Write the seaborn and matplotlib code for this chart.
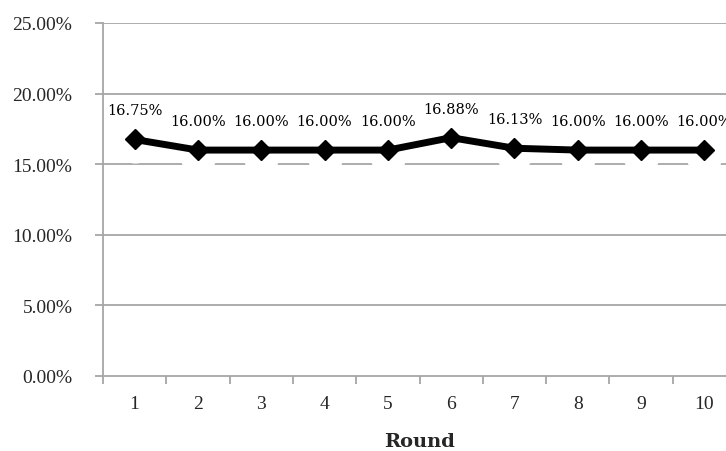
import matplotlib
matplotlib.use("Agg")
import matplotlib.pyplot as plt
import matplotlib.transforms as mtransforms
import seaborn as sns
import pandas as pd
from matplotlib.ticker import FuncFormatter, FixedLocator

rounds = [1, 2, 3, 4, 5, 6, 7, 8, 9, 10]
values = [16.75, 16.00, 16.00, 16.00, 16.00, 16.88, 16.13, 16.00, 16.00, 16.00]
labels = ["16.75%", "16.00%", "16.00%", "16.00%", "16.00%", "16.88%", "16.13%", "16.00%", "16.00%", "16.00%"]

df = pd.DataFrame({"Round": rounds, "Value": [v / 100 for v in values]})

sns.set_theme(style="white")
plt.rcParams['font.family'] = ['Liberation Serif', 'DejaVu Serif']

fig = plt.figure(figsize=(7.26, 4.52), dpi=100)
ax = fig.add_axes([103/726, 75/452, 633/726, 353/452])

grid_c = "#a6a6a6"
for y in [0.05, 0.10, 0.15, 0.20, 0.25]:
    ax.axhline(y, color=grid_c, lw=1.3, zorder=0)

# soft white "shadow" below the markers (hides part of the grid line beneath)
shadow_tr = mtransforms.offset_copy(ax.transData, fig=fig, x=0, y=-6, units="dots")
ax.plot(df["Round"], df["Value"], linestyle="none", marker="o", markersize=26,
        color="white", markeredgewidth=0, transform=shadow_tr, zorder=1)

sns.lineplot(data=df, x="Round", y="Value", ax=ax, color="black", lw=5,
             marker="D", markersize=10.5, markeredgecolor="black",
             markeredgewidth=1, zorder=3)

for x, v, t in zip(rounds, values, labels):
    ax.annotate(t, (x, v / 100), xytext=(0, 18), textcoords="offset points",
                ha="center", va="baseline", fontsize=10.5, color="black",
                family="DejaVu Serif")

ax.set_xlim(0.5, 10.5)
ax.set_ylim(0, 0.25)
ax.yaxis.set_major_locator(FixedLocator([0, 0.05, 0.10, 0.15, 0.20, 0.25]))
ax.yaxis.set_major_formatter(FuncFormatter(lambda y, p: f"{y*100:.2f}%"))
ax.set_xticks(rounds)
ax.set_xticks([r + 0.5 for r in [0] + rounds], minor=True)

for s in ["top", "right"]:
    ax.spines[s].set_visible(False)
for s in ["left", "bottom"]:
    ax.spines[s].set_color(grid_c)
    ax.spines[s].set_linewidth(1.3)

ax.tick_params(axis="y", which="major", left=True, length=6, width=1.3, color=grid_c,
               labelsize=14, pad=16)
ax.tick_params(axis="x", which="major", bottom=False, length=0, labelsize=14, pad=14)
ax.tick_params(axis="x", which="minor", bottom=True, length=6, width=1.3, color=grid_c)

ax.set_xlabel("Round", fontsize=14, fontweight="bold", labelpad=14, family="DejaVu Serif")
ax.set_ylabel("")

fig.savefig("out.png", dpi=100)
